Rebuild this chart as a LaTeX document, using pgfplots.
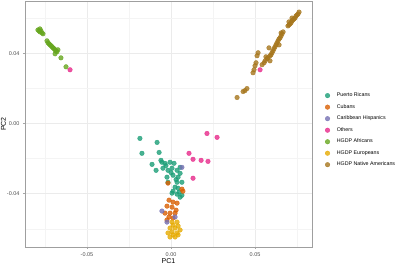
\documentclass[border=0pt]{standalone}
\usepackage{fontspec}
\setmainfont{Liberation Sans}
\usepackage{pgfplots}
\pgfplotsset{compat=1.18}
\definecolor{cPR}{HTML}{1B9E77}
\definecolor{cCU}{HTML}{D95F02}
\definecolor{cCH}{HTML}{7570B3}
\definecolor{cOT}{HTML}{E7298A}
\definecolor{cAF}{HTML}{66A61E}
\definecolor{cEU}{HTML}{E6AB02}
\definecolor{cNA}{HTML}{A6761D}
\definecolor{gridmaj}{HTML}{EBEBEB}
\definecolor{gridmin}{HTML}{F4F4F4}
\definecolor{ticktext}{HTML}{4D4D4D}
\begin{document}
\begin{tikzpicture}
\begin{axis}[
  at={(0,0)}, anchor=south west,
  scale only axis, width=287pt, height=246pt,
  xmin=-0.0869, xmax=0.0839, ymin=-0.0704, ymax=0.0698,
  scaled ticks=false,
  xtick={-0.05,0,0.05}, xticklabels={-0.05,0.00,0.05},
  ytick={-0.04,0,0.04}, yticklabels={-0.04,0.00,0.04},
  minor xtick={-0.075,-0.025,0.025,0.075},
  minor ytick={-0.06,-0.02,0.02,0.06},
  grid=both,
  major grid style={gridmaj, line width=0.6pt},
  minor grid style={gridmin, line width=0.4pt},
  axis line style={gray!75, line width=0.8pt},
  tick align=outside, major tick length=2pt, minor tick length=0pt,
  tick style={gray!70, line width=0.5pt},
  xtick pos=bottom, ytick pos=left,
  tick label style={font=\fontsize{5.5}{6}\selectfont, text=ticktext},
  xlabel={PC1}, ylabel={PC2},
  label style={font=\fontsize{7}{8}\selectfont},
  xlabel style={yshift=5pt},
  ylabel style={yshift=-6pt},
  legend image code/.code={\draw[#1] plot coordinates {(0pt,0pt)};},
  legend style={draw=none, fill=none, font=\fontsize{5.3}{6}\selectfont,
    at={(1.035,0.475)}, anchor=west, row sep=2.2pt, cells={anchor=west},
    /tikz/every odd column/.style={column sep=5pt}},
  every axis plot/.append style={only marks, mark=*, mark size=2.3pt, opacity=0.8},
]
\addplot[cPR, mark options={fill=cPR, draw=cPR}] coordinates {
(-0.0185,-0.0085) (-0.0083,-0.0108) (-0.0173,-0.0170) (-0.0071,-0.0165)
(-0.0113,-0.0233) (-0.0089,-0.0267) (-0.0054,-0.0221) (-0.0036,-0.0227)
(-0.0006,-0.0221) (0.0018,-0.0227) (-0.0048,-0.0255) (-0.0018,-0.0267)
(0.0006,-0.0255) (0.0036,-0.0267) (0.0054,-0.0284) (-0.0024,-0.0306)
(0.0012,-0.0295) (0.0042,-0.0306) (0.0065,-0.0335) (-0.0018,-0.0335)
(0.0036,-0.0335) (0.0024,-0.0363) (0.0012,-0.0386) (0.0042,-0.0369)
(0.0006,-0.0397) (0.0036,-0.0403) (0.0054,-0.0420) (0.0065,-0.0409)
(0.0048,-0.0391) (0.0054,-0.0250) (-0.0060,-0.0210) (-0.0030,-0.0240)
(0.0000,-0.0280) (0.0030,-0.0320)
};
\addlegendentry{Puerto Ricans}
\addplot[cCU, mark options={fill=cCU, draw=cCU}] coordinates {
(-0.0018,-0.0340) (0.0065,-0.0374) (0.0071,-0.0386) (-0.0012,-0.0437)
(0.0012,-0.0448) (0.0036,-0.0454) (-0.0024,-0.0471) (0.0006,-0.0477)
(0.0030,-0.0494) (-0.0036,-0.0511) (-0.0006,-0.0511) (0.0024,-0.0511)
(-0.0012,-0.0533) (0.0012,-0.0539) (-0.0024,-0.0550)
};
\addlegendentry{Cubans}
\addplot[cCH, mark options={fill=cCH, draw=cCH}] coordinates {
(0.0065,-0.0250) (-0.0054,-0.0499) (0.0024,-0.0533) (-0.0024,-0.0562)
};
\addlegendentry{Caribbean Hispanics}
\addplot[cOT, mark options={fill=cOT, draw=cOT}] coordinates {
(-0.0601,0.0306) (0.0530,0.0306) (0.0214,-0.0057) (0.0274,-0.0079)
(0.0107,-0.0170) (0.0131,-0.0204) (0.0179,-0.0210) (0.0220,-0.0216)
(0.0131,-0.0312)
};
\addlegendentry{Others}
\addplot[cAF, mark options={fill=cAF, draw=cAF}] coordinates {
(-0.0792,0.0533) (-0.0786,0.0528) (-0.0780,0.0522) (-0.0774,0.0528)
(-0.0768,0.0516) (-0.0762,0.0511) (-0.0780,0.0539) (-0.0738,0.0471)
(-0.0732,0.0460) (-0.0726,0.0454) (-0.0720,0.0448) (-0.0714,0.0443)
(-0.0708,0.0437) (-0.0702,0.0431) (-0.0696,0.0426) (-0.0690,0.0420)
(-0.0685,0.0414) (-0.0679,0.0409) (-0.0673,0.0420) (-0.0690,0.0397)
(-0.0655,0.0374) (-0.0625,0.0323)
};
\addlegendentry{HGDP Africans}
\addplot[cEU, mark options={fill=cEU, draw=cEU}] coordinates {
(0.0006,-0.0562) (0.0036,-0.0562) (0.0012,-0.0579) (0.0042,-0.0584)
(-0.0006,-0.0596) (0.0024,-0.0596) (0.0054,-0.0607) (0.0006,-0.0618)
(0.0036,-0.0624) (-0.0018,-0.0624) (0.0012,-0.0635) (0.0042,-0.0635)
(-0.0006,-0.0647) (0.0024,-0.0647)
};
\addlegendentry{HGDP Europeans}
\addplot[cNA, mark options={fill=cNA, draw=cNA}] coordinates {
(0.0762,0.0635) (0.0756,0.0624) (0.0750,0.0618) (0.0744,0.0613)
(0.0738,0.0601) (0.0732,0.0596) (0.0726,0.0590) (0.0720,0.0584)
(0.0714,0.0573) (0.0708,0.0567) (0.0702,0.0562) (0.0696,0.0556)
(0.0702,0.0579) (0.0720,0.0601) (0.0667,0.0522) (0.0661,0.0511)
(0.0655,0.0499) (0.0649,0.0488) (0.0643,0.0482) (0.0655,0.0516)
(0.0637,0.0471) (0.0631,0.0460) (0.0625,0.0448) (0.0619,0.0437)
(0.0643,0.0448) (0.0613,0.0426) (0.0607,0.0414) (0.0601,0.0403)
(0.0595,0.0391) (0.0589,0.0386) (0.0577,0.0374) (0.0583,0.0431)
(0.0589,0.0357) (0.0571,0.0369) (0.0565,0.0380) (0.0560,0.0357)
(0.0518,0.0403) (0.0512,0.0386) (0.0554,0.0346) (0.0542,0.0335)
(0.0500,0.0329) (0.0494,0.0306) (0.0488,0.0289) (0.0506,0.0346)
(0.0452,0.0199) (0.0440,0.0187) (0.0429,0.0182) (0.0393,0.0148)
};
\addlegendentry{HGDP Native Americans}
\end{axis}
\pgfresetboundingbox
\path[use as bounding box] (-25pt,-18pt) rectangle (375pt,247pt);
\end{tikzpicture}
\end{document}
